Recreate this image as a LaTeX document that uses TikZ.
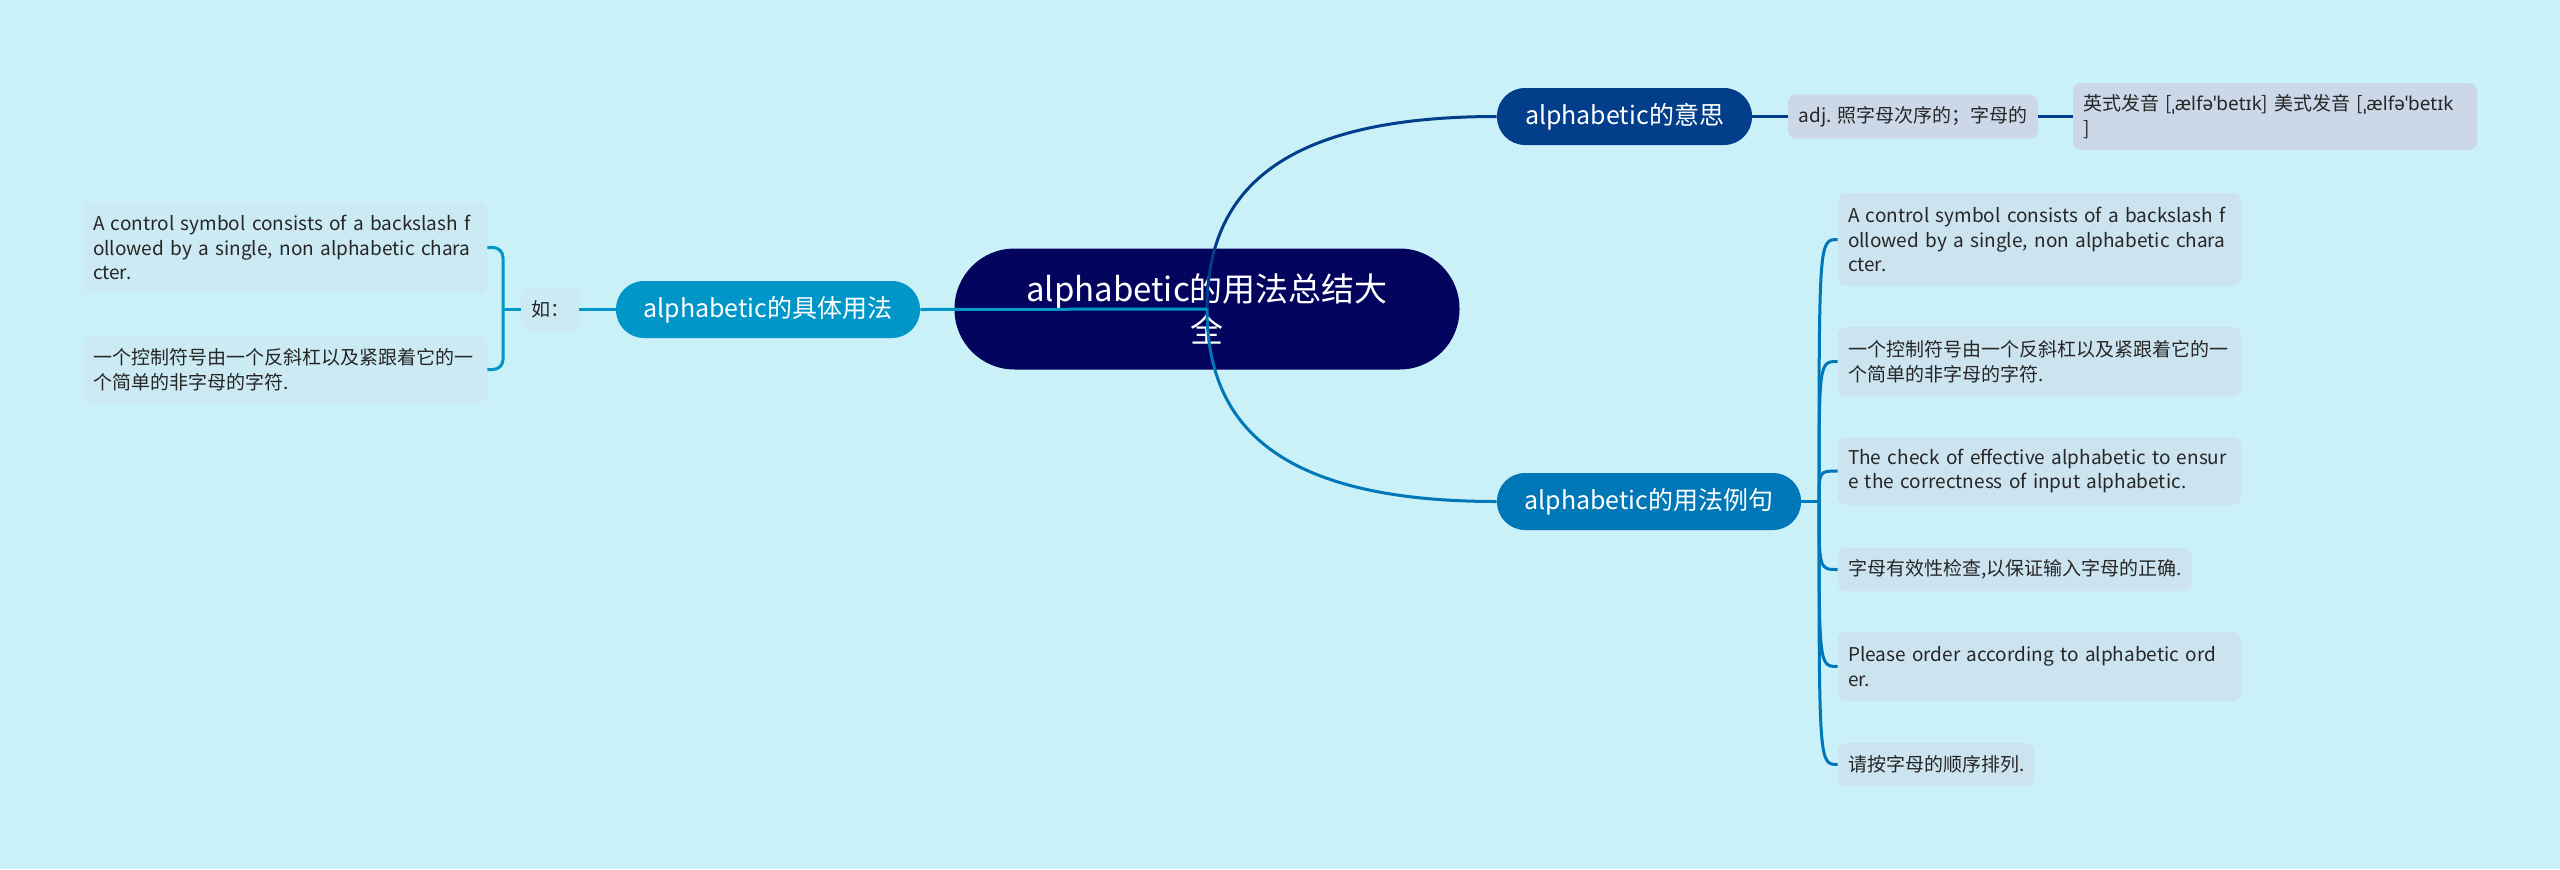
\documentclass[tikz,border=0pt]{standalone}
\usepackage{fontspec}
\setmainfont{Noto Sans CJK SC}
\newfontfamily\ipafont{Noto Sans}
\usepackage{tikz}
\usetikzlibrary{calc}
\definecolor{rootblue}{HTML}{03045E}
\definecolor{deepblue}{HTML}{023E8A}
\definecolor{midblue}{HTML}{0077B6}
\definecolor{lightblue}{HTML}{0096C7}
\definecolor{bgcyan}{HTML}{CAF0F8}

\begin{document}
\begin{tikzpicture}[
    x=0.5pt, y=-0.5pt,
    topic/.style={rectangle, rounded corners=14pt, fill=#1, text=white,
                  minimum height=28.5pt, inner sep=0pt,
                  font=\fontsize{12.5}{15}\selectfont},
    leaf/.style={rectangle, rounded corners=4pt, fill=#1!20, text=black!85,
                 align=left, inner xsep=5pt, inner ysep=0pt,
                 font=\fontsize{9.5}{12.25}\selectfont},
    link/.style={draw=#1, line width=1.5pt}
]
\fill[bgcyan] (0,0) rectangle (2560,869);
\useasboundingbox (0,0) rectangle (2560,869);

\node[rectangle, rounded corners=30pt, fill=rootblue, text=white, align=center,
      minimum width=252.5pt, minimum height=60.5pt,
      font=\fontsize{16.5}{20.5}\selectfont] (root) at (1207,309) {alphabetic的用法总结大\\全};

\node[topic=deepblue, minimum width=127.5pt] (mean) at (1624.5,116.5) {alphabetic的意思};
\node[topic=lightblue, minimum width=152pt] (usage) at (768,309.5) {alphabetic的具体用法};
\node[topic=midblue, minimum width=152pt] (examples) at (1649,501.5) {alphabetic的用法例句};

\node[leaf=deepblue, minimum width=125pt, minimum height=22pt] (adj) at (1913,116.5) {adj. 照字母次序的；字母的};
\node[leaf=deepblue, text width=192pt, minimum height=33.5pt] (pron) at (2275,116.5)
    {英式发音 [{\ipafont ˌælfəˈbetɪk}] 美式发音 [{\ipafont ˌælfəˈbetɪk}\\]};

\node[leaf=lightblue, minimum width=29pt, minimum height=21.5pt] (ru) at (550,309.5) {如：};
\node[leaf=lightblue, text width=192pt, minimum height=45.5pt] (uA) at (285,247.5)
    {A control symbol consists of a backslash f\\ollowed by a single, non alphabetic chara\\cter.};
\node[leaf=lightblue, text width=192pt, minimum height=33.5pt] (uB) at (285,369.5)
    {一个控制符号由一个反斜杠以及紧跟着它的一\\个简单的非字母的字符.};

\node[leaf=midblue, text width=191.5pt, minimum height=46.5pt] (eA) at (2039.5,239.5)
    {A control symbol consists of a backslash f\\ollowed by a single, non alphabetic chara\\cter.};
\node[leaf=midblue, text width=191.5pt, minimum height=34.5pt] (eB) at (2039.5,361.5)
    {一个控制符号由一个反斜杠以及紧跟着它的一\\个简单的非字母的字符.};
\node[leaf=midblue, text width=191.5pt, minimum height=34pt] (eC) at (2039.5,471)
    {The check of effective alphabetic to ensur\\e the correctness of input alphabetic.};
\node[leaf=midblue, text width=167pt, minimum height=21.5pt] (eD) at (2015,569.5)
    {字母有效性检查,以保证输入字母的正确.};
\node[leaf=midblue, text width=191.5pt, minimum height=34.5pt] (eE) at (2039.5,666.5)
    {Please order according to alphabetic ord\\er.};
\node[leaf=midblue, text width=88pt, minimum height=21.5pt] (eF) at (1936,764.5)
    {请按字母的顺序排列.};

\coordinate (ujoin) at (503,309.5);
\coordinate (ejoin) at (1819,501.5);

\draw[link=deepblue] (root.center) .. controls +(0,-110) and +(-227,0) .. (mean.west);
\draw[link=midblue] (root.center) .. controls +(0,110) and +(-227,0) .. (examples.west);
\draw[link=lightblue] (usage.east) -- (root.center);

\foreach \a/\b in {mean/adj, adj/pron}
    \draw[link=deepblue] (\a) -- (\b);

\draw[link=lightblue] (usage) -- (ru);
\draw[link=lightblue] (ru.west) -- (ujoin);
\foreach \b in {uA, uB}
    \draw[link=lightblue, rounded corners=5pt] (ujoin) |- (\b.east);

\draw[link=midblue] (examples.east) -- (ejoin);
\foreach \b in {eA, eB, eC, eD, eE, eF}
    \draw[link=midblue] (ejoin) .. controls (ejoin |- \b.west) .. (\b.west);
\end{tikzpicture}
\end{document}
